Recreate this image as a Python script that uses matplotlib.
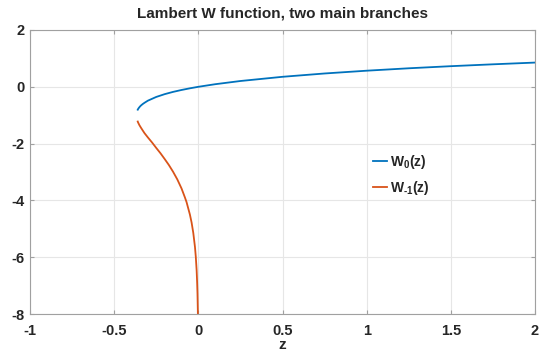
import matplotlib
matplotlib.use("Agg")
import matplotlib.pyplot as plt

# ------------------------------------------------------------
# Datos (rama principal y rama -1)
# ------------------------------------------------------------
z_w0 = [-0.36, -0.358, -0.355, -0.35, -0.345, -0.34, -0.33, -0.32, -0.3,
        -0.25, -0.2, -0.15, -0.1, -0.05, 0.0, 0.1, 0.25, 0.5, 0.75,
        1.0, 1.25, 1.5, 1.75, 2.0]
w0 = [-0.806, -0.783, -0.756, -0.717, -0.683, -0.654, -0.605, -0.564, -0.489,
      -0.357, -0.259, -0.179, -0.112, -0.053, 0.0, 0.091, 0.204, 0.352, 0.469,
      0.567, 0.652, 0.726, 0.792, 0.853]

z_wm1 = [-0.36, -0.358, -0.355, -0.35, -0.34, -0.33, -0.32, -0.3, -0.275,
         -0.25, -0.225, -0.2, -0.175, -0.15, -0.125, -0.1, -0.08, -0.07,
         -0.05, -0.04, -0.03, -0.02, -0.015, -0.01, -0.007, -0.005, -0.003,
         -0.002]
wm1 = [-1.223, -1.256, -1.291, -1.351, -1.448, -1.540, -1.630, -1.781, -1.960,
       -2.153, -2.339, -2.543, -2.754, -2.992, -3.260, -3.577, -3.891, -4.060,
       -4.500, -4.780, -5.145, -5.640, -5.990, -6.473, -6.910, -7.285, -7.870,
       -8.340]

x_ticks = [-1, -0.5, 0, 0.5, 1, 1.5, 2]
y_ticks = [-8, -6, -4, -2, 0, 2]
x_labels = ["-1", "-0.5", "0", "0.5", "1", "1.5", "2"]
y_labels = ["-8", "-6", "-4", "-2", "0", "2"]

AZUL = "#0072BD"
NARANJA = "#D95319"
TEXTO = "#262626"
BORDE = "#A0A0A0"

plt.rcParams["font.family"] = ["Liberation Sans", "DejaVu Sans"]
plt.rcParams["mathtext.fontset"] = "custom"
plt.rcParams["mathtext.rm"] = "Liberation Sans:bold"
plt.rcParams["mathtext.it"] = "Liberation Sans:bold"
plt.rcParams["mathtext.bf"] = "Liberation Sans:bold"

fig = plt.figure(figsize=(5.39, 3.54), dpi=100)
ax = fig.add_axes([30 / 539, 40 / 354, 505 / 539, 284 / 354])

ax.plot(z_w0, w0, color=AZUL, lw=1.3, label=r"$\mathrm{W_0(z)}$")
ax.plot(z_wm1, wm1, color=NARANJA, lw=1.3, label="$\\mathrm{W_{\u20101}(z)}$")

ax.set_xlim(-1, 2)
ax.set_ylim(-8, 2)
ax.set_xticks(x_ticks)
ax.set_xticklabels(x_labels)
ax.set_yticks(y_ticks)
ax.set_yticklabels(y_labels)

ax.grid(True, color="#E6E6E6", lw=0.8)
ax.set_axisbelow(True)
for s in ax.spines.values():
    s.set_color(BORDE)
    s.set_linewidth(0.8)
ax.tick_params(direction="in", top=True, right=True, length=3,
               color=BORDE, labelcolor=TEXTO, labelsize=10.5)
ax.tick_params(axis="x", pad=7)
ax.tick_params(axis="y", pad=4)
for lab in ax.get_xticklabels() + ax.get_yticklabels():
    lab.set_fontweight("bold")

ax.set_title("Lambert W function, two main branches", fontsize=11,
             fontweight="bold", color=TEXTO, pad=9)
ax.set_xlabel("z", fontsize=11, fontweight="bold", color=TEXTO, labelpad=0)

ax.legend(loc="upper left", bbox_to_anchor=(0.655, 0.61), frameon=False,
          handlelength=1.0, handletextpad=0.2, labelspacing=0.55,
          fontsize=10, labelcolor=TEXTO)

fig.savefig("out.png", dpi=100)
